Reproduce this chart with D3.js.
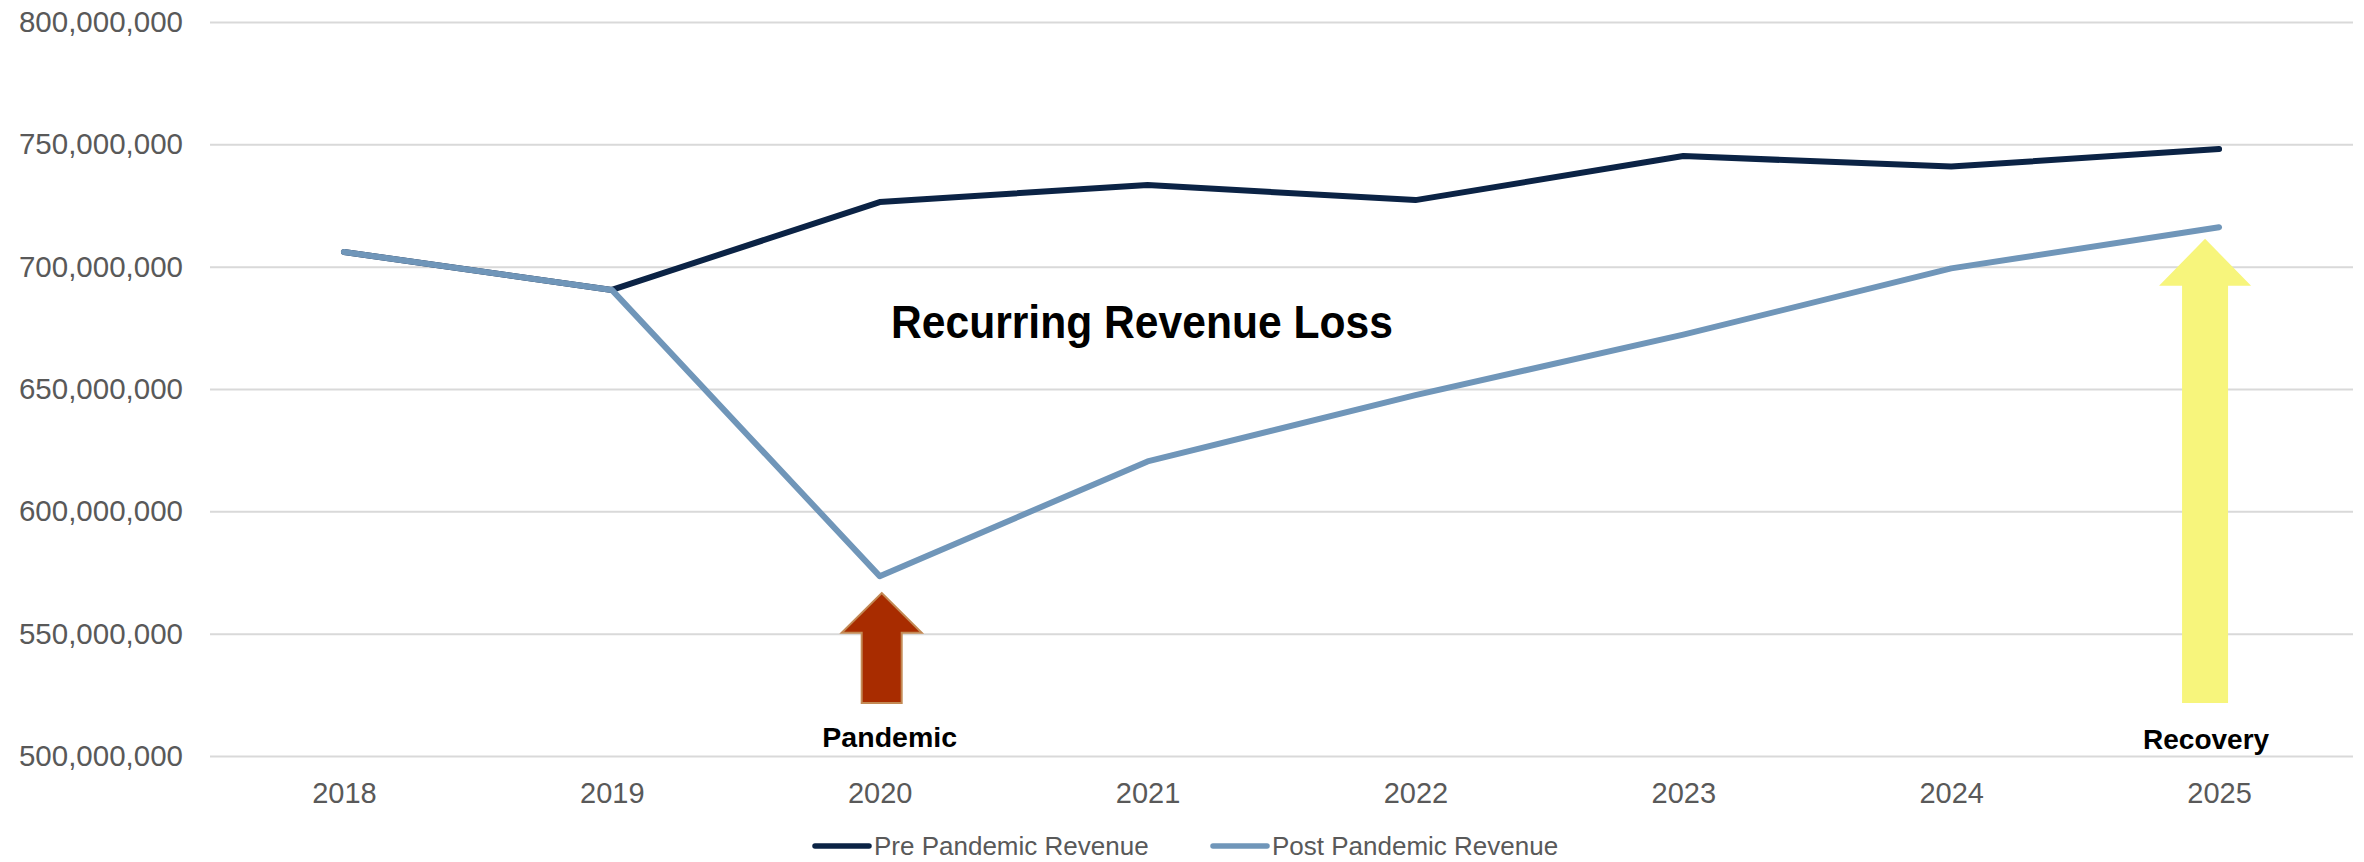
<!DOCTYPE html>
<html>
<head>
<meta charset="utf-8">
<script src="https://cdn.jsdelivr.net/npm/d3@7"></script>
<style>
  body { margin: 0; background: #fff; }
  text { font-family: "Liberation Sans", Arial, sans-serif; }
</style>
</head>
<body>
<div id="chart"></div>
<script>
// chart data
let years = ["2018", "2019", "2020", "2021", "2022", "2023", "2024", "2025"];
let preRevenue = [706000000, 690500000, 726400000, 733400000, 727200000, 745200000, 740900000, 748100000];
let postRevenue = [706000000, 690500000, 573500000, 620400000, 647500000, 672200000, 699300000, 716100000];
let yTicks = [500000000, 550000000, 600000000, 650000000, 700000000, 750000000, 800000000];
let seriesNames = ["Pre Pandemic Revenue", "Post Pandemic Revenue"];
let seriesColors = ["#0b2345", "#7096b9"];

let svgWidth = 2364;
let svgHeight = 862;

// plot area
let plotLeft = 210, plotRight = 2353, plotTop = 22, plotBottom = 756;

let svg = d3.select("#chart")
  .append("svg")
  .attr("width", svgWidth)
  .attr("height", svgHeight);

let x = d3.scalePoint()
  .domain(years)
  .range([plotLeft, plotRight])
  .padding(0.5);

let y = d3.scaleLinear()
  .domain([500000000, 800000000])
  .range([plotBottom, plotTop]);

// gridlines + y labels
let yAxis = svg.append("g")
  .attr("transform", `translate(${plotLeft},0)`)
  .call(d3.axisLeft(y)
    .tickValues(yTicks)
    .tickSize(-(plotRight - plotLeft))
    .tickPadding(27)
    .tickFormat(d3.format(",")));
yAxis.select(".domain").remove();
yAxis.selectAll(".tick line").attr("stroke", "#d9d9d9").attr("stroke-width", 2);
yAxis.selectAll(".tick text")
  .attr("fill", "#595959")
  .style("font-size", "29.5px");

// x labels
let xAxis = svg.append("g")
  .attr("transform", `translate(0,${plotBottom})`)
  .call(d3.axisBottom(x).tickSize(0).tickPadding(26));
xAxis.select(".domain").remove();
xAxis.selectAll(".tick text")
  .attr("fill", "#595959")
  .style("font-size", "29px");

// lines
let line = d3.line()
  .x((d, i) => x(years[i]))
  .y(d => y(d));

[preRevenue, postRevenue].forEach(function (vals, k) {
  svg.append("path")
    .datum(vals)
    .attr("fill", "none")
    .attr("stroke", seriesColors[k])
    .attr("stroke-width", 6)
    .attr("stroke-linejoin", "round")
    .attr("stroke-linecap", "round")
    .attr("d", line);
});

// block arrow pointing up, tip at (cx, tipY)
function upArrow(cx, tipY, baseY, endY, headHalf, shaftHalf) {
  return `M${cx},${tipY} L${cx + headHalf},${baseY} L${cx + shaftHalf},${baseY} ` +
    `L${cx + shaftHalf},${endY} L${cx - shaftHalf},${endY} L${cx - shaftHalf},${baseY} ` +
    `L${cx - headHalf},${baseY} Z`;
}

// pandemic arrow
let px = x("2020") + 2;
svg.append("path")
  .attr("d", upArrow(px, y(566600000), y(550000000) - 1, y(521700000), 40, 20))
  .attr("fill", "#a82c00")
  .attr("stroke", "#c38a55")
  .attr("stroke-width", 2);

svg.append("text")
  .attr("x", px + 8)
  .attr("y", 747)
  .attr("text-anchor", "middle")
  .style("font-size", "28.5px")
  .style("font-weight", "bold")
  .attr("fill", "#000")
  .text("Pandemic");

// recovery arrow
let rx = x("2025") - 14;
svg.append("path")
  .attr("d", upArrow(rx, y(711400000), y(692200000), y(521700000), 46, 23))
  .attr("fill", "#f7f57c");

svg.append("text")
  .attr("x", rx + 1)
  .attr("y", 749)
  .attr("text-anchor", "middle")
  .style("font-size", "28px")
  .style("font-weight", "bold")
  .attr("fill", "#000")
  .text("Recovery");

// annotation
svg.append("text")
  .attr("x", 891)
  .attr("y", 338)
  .attr("textLength", 502)
  .attr("lengthAdjust", "spacingAndGlyphs")
  .style("font-size", "47px")
  .style("font-weight", "bold")
  .attr("fill", "#000")
  .text("Recurring Revenue Loss");

// legend
let legendX = [815, 1213];
seriesNames.forEach(function (name, k) {
  let g = svg.append("g").attr("transform", `translate(${legendX[k]},846)`);
  g.append("line")
    .attr("x1", 0).attr("x2", 54)
    .attr("stroke", seriesColors[k])
    .attr("stroke-width", 5.5)
    .attr("stroke-linecap", "round");
  g.append("text")
    .attr("x", 59)
    .attr("dy", "0.36em")
    .attr("fill", "#595959")
    .style("font-size", "26px")
    .text(name);
});
</script>
</body>
</html>
